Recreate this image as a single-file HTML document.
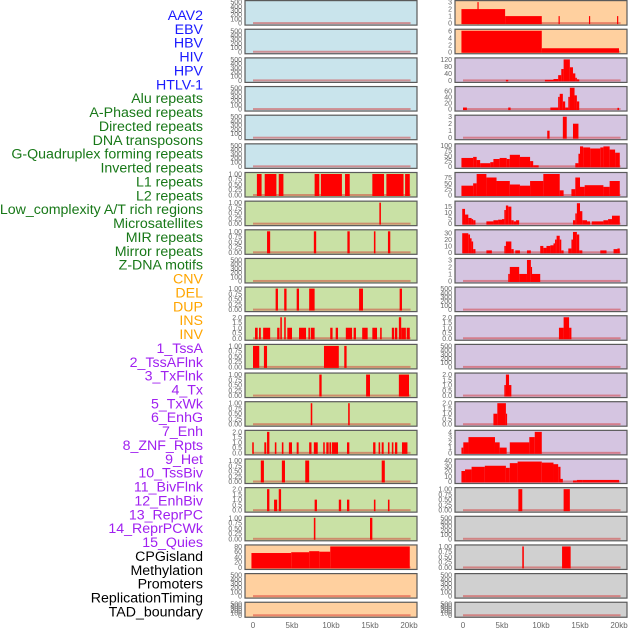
<!DOCTYPE html>
<html><head><meta charset="utf-8">
<style>
html,body{margin:0;padding:0;background:#fff;}
svg{display:block;font-family:"Liberation Sans",sans-serif;}
</style></head>
<body>
<svg id="chart" width="630" height="630" viewBox="0 0 630 630" xmlns="http://www.w3.org/2000/svg">
<g id="labels"></g>
<g id="panels"></g>
<g id="xaxes"></g>
</svg>
<script>
// ---- labels ----
const labelNames = ["AAV2","EBV","HBV","HIV","HPV","HTLV-1","Alu repeats","A-Phased repeats","Directed repeats","DNA transposons","G-Quadruplex forming repeats","Inverted repeats","L1 repeats","L2 repeats","Low_complexity A/T rich regions","Microsatellites","MIR repeats","Mirror repeats","Z-DNA motifs","CNV","DEL","DUP","INS","INV","1_TssA","2_TssAFlnk","3_TxFlnk","4_Tx","5_TxWk","6_EnhG","7_Enh","8_ZNF_Rpts","9_Het","10_TssBiv","11_BivFlnk","12_EnhBiv","13_ReprPC","14_ReprPCWk","15_Quies","CPGisland","Methylation","Promoters","ReplicationTiming","TAD_boundary"];
const labelGroups = [0,0,0,0,0,0,1,1,1,1,1,1,1,1,1,1,1,1,1,2,2,2,2,2,3,3,3,3,3,3,3,3,3,3,3,3,3,3,3,4,4,4,4,4];
const groupColors = ["#1a1aff","#187818","#ffa500","#a020f0","#000000"];

// ---- x axis ----
const xTickValues = [0,5,10,15,20];
const xTickLabels = ["0","5kb","10kb","15kb","20kb"];

// ---- panel data: segments [startKb, endKb, value] ----
const L_binary_r6 = [[0.5,1.1,1],[1.5,3.0,1],[3.3,3.9,1],[7.9,8.5,1],[8.7,11.4,1],[11.8,12.4,1],[15.3,16.8,1],[17.1,19.3,1],[19.5,20.1,1]];
const L_binary_r7 = [[16.2,16.4,1]];
const L_binary_r8 = [[1.8,2.2,1],[7.8,8.1,1],[12.1,12.4,1],[15.5,15.7,1],[17.3,17.6,1]];
const L_binary_r10 = [[2.9,3.2,1],[4.0,4.3,1],[5.6,5.9,1],[7.2,7.9,1],[13.6,14.1,1],[18.8,19.1,1]];
const L_count_r11 = [[0.26,0.6,1],[0.77,1.0,1],[1.3,2.2,1],[3.1,3.4,1],[3.5,3.7,2],[4.0,4.2,2],[4.4,5.0,1],[5.9,6.8,1],[7.1,7.3,1],[7.4,7.9,1],[9.9,10.2,1],[10.6,10.9,1],[11.9,12.7,1],[12.9,13.2,1],[14.0,14.7,1],[15.3,15.9,1],[16.3,16.5,1],[17.8,18.1,1],[18.2,18.5,1],[18.7,19.0,2],[19.0,19.6,1],[19.7,20.1,1]];
const L_binary_r12 = [[0,0.8,1],[1.4,1.8,1],[9.1,11.0,1],[11.7,12.0,1]];
const L_binary_r13 = [[8.5,8.8,1],[14.5,15.0,1],[18.7,20.0,1]];
const L_binary_r14 = [[7.4,7.6,1],[12.2,12.4,1]];
const L_count_r15 = [[-0.1,0.1,1],[1.45,1.7,1],[1.8,2.1,2],[2.8,3.0,1],[3.7,3.9,1],[4.6,5.0,1],[5.6,5.85,1],[7.2,7.5,1],[7.8,8.3,1],[9.0,9.2,1],[9.4,9.7,1],[9.8,10.0,1],[10.1,10.9,1],[12.05,12.35,1],[15.4,15.7,1],[16.1,16.3,1],[16.5,16.75,1],[17.3,17.5,1],[17.8,18.0,1],[18.2,18.5,1],[19.1,19.8,1]];
const L_binary_r16 = [[1.0,1.4,1],[3.7,4.1,1],[6.7,7.2,1],[16.5,16.9,1]];
const L_count_r17 = [[1.8,2.1,2],[2.7,3.1,1],[3.3,3.6,2],[7.9,8.2,1],[11.0,11.3,1],[12.05,12.35,1],[15.5,15.7,1],[17.3,17.5,1]];
const L_binary_r18 = [[7.8,8.0,1],[15.0,15.3,1]];
const L_cpg_r19 = [[-0.2,4.9,55],[4.9,7.2,58],[7.2,8.5,62],[8.5,9.9,60],[9.9,20.1,80]];

const R_aav2_r0 = [[-0.2,5.4,2],[5.4,10.1,1],[1.85,2.0,3],[12.25,12.4,1],[16.15,16.3,1],[19.75,19.9,1]];
const R_ebv_r1 = [[-0.2,10.1,6],[10.1,20.0,1]];
const R_hiv_r2 = [[5.5,5.8,3],[10.5,11.6,3],[11.6,12.2,8],[12.2,12.6,30],[12.6,12.9,65],[12.9,13.7,120],[13.7,14.1,75],[14.1,14.4,40],[14.4,14.6,15],[14.6,14.9,6]];
const R_alu_r3 = [[0.0,0.5,5],[5.8,6.1,5],[11.2,12.2,5],[12.2,12.4,40],[12.4,12.8,50],[12.8,13.1,25],[13.1,13.5,5],[13.5,13.7,40],[13.7,14.3,70],[14.3,14.6,45],[14.6,14.9,25],[19.8,20.0,4]];
const R_r4 = [[10.8,11.1,1],[12.8,13.3,3],[14.1,14.8,2]];
const R_gquad_r5 = [[-0.2,1.3,40],[1.3,1.75,45],[1.75,2.2,30],[2.2,3.5,15],[3.5,3.9,20],[3.9,4.7,35],[4.7,5.6,40],[5.6,6.0,35],[6.0,7.3,55],[7.3,8.6,45],[8.6,9.0,25],[9.0,9.7,5],[14.4,14.8,15],[14.8,15.0,60],[15.0,15.4,95],[15.4,16.3,90],[16.3,17.6,85],[17.6,18.0,90],[18.0,18.8,95],[18.8,19.5,80],[19.5,20.1,65]];
const R_l1_r6 = [[-0.2,1.3,40],[1.3,1.75,50],[1.75,3.0,90],[3.0,4.3,75],[4.3,6.0,60],[6.0,7.3,45],[7.3,8.6,40],[8.6,10.3,60],[10.3,12.4,90],[12.4,12.9,20],[13.9,14.4,25],[14.4,15.0,75],[15.0,15.6,35],[15.6,18.0,42],[18.0,18.8,35],[18.8,20.1,60]];
const R_l2_r7 = [[-0.1,0.26,13],[0.26,0.68,8],[0.68,1.1,5],[1.1,1.3,4],[1.3,1.6,3],[3.0,3.9,2],[3.9,4.5,3],[4.5,5.0,3.5],[5.0,5.3,4],[5.3,5.5,12],[5.5,5.8,16],[5.8,6.2,15],[6.2,6.5,3],[6.5,6.8,2],[6.8,7.2,3],[14.1,14.4,3],[14.4,14.6,9],[14.6,15.0,18],[15.0,15.3,11],[15.3,15.9,3],[15.9,16.3,2],[16.5,18.0,2],[18.0,18.6,3],[18.6,19.1,4],[19.1,20.1,7]];
const R_mir_r8 = [[-0.1,0.68,30],[0.68,0.9,28],[0.9,1.1,22],[1.1,1.3,17],[1.3,1.6,5],[3.0,3.7,3],[5.3,5.5,10],[5.5,6.2,17],[6.2,6.5,5],[6.7,7.3,3],[8.2,8.7,3],[9.9,10.3,10],[10.3,10.7,7],[10.7,11.2,10],[11.2,11.6,11],[11.6,11.8,14],[11.8,12.0,20],[12.0,12.4,26],[12.4,12.6,20],[12.6,12.9,3],[13.5,13.9,6],[13.9,14.1,20],[14.1,14.6,32],[14.6,14.9,28],[14.9,15.3,3],[17.6,18.4,3],[19.3,19.8,5],[19.8,20.1,6]];
const R_r9 = [[5.8,6.0,1],[6.0,7.2,2],[7.2,8.2,1],[8.2,8.7,3],[8.7,8.8,2],[8.8,9.9,1]];
const R_r11 = [[12.3,12.9,1],[12.9,13.6,2],[13.6,13.9,1]];
const R_r13 = [[5.3,5.5,1],[5.5,5.9,2],[5.9,6.2,1]];
const R_r14 = [[3.9,4.4,1],[4.4,5.5,2],[5.5,5.6,1]];
const R_r15 = [[-0.2,0.04,1],[0.04,0.7,2],[0.7,4.1,3],[4.1,4.7,2],[4.7,5.6,1],[6.0,8.5,2],[8.5,9.2,3],[9.2,10.1,4]];
const R_r16 = [[-0.2,0.26,20],[0.26,1.1,23],[1.1,2.8,28],[2.8,5.5,30],[5.5,6.0,26],[6.0,7.0,35],[7.0,10.1,38],[10.1,11.6,36],[11.6,12.2,33],[12.2,12.5,28],[12.5,12.8,5],[14.1,14.6,2],[14.6,15.3,3],[15.3,20.0,3]];
const R_r17 = [[7.1,7.6,1],[12.9,13.7,1]];
const R_r19 = [[7.6,7.8,1],[12.7,13.8,1]];

// ---- panel definitions (styles/layout) ----
const BLUE="#c9e4ec", GREEN="#c9e1a5", PEACH="#ffd09f", PURPLE="#d5c5e1", GRAY="#d0d0d0";
const EMPTY=[[0,100,200,300,400,500],500,["0","100","200","300","400","500"]];
const BIN=[[0,0.25,0.5,0.75,1],1,["0.00","0.25","0.50","0.75","1.00"]];
const TWO=[[0,0.5,1,1.5,2],2,["0.0","0.5","1.0","1.5","2.0"]];
function T(vals,max){return [vals,max,vals.map(String)];}
const leftPanels = [
 [BLUE,null,EMPTY],[BLUE,null,EMPTY],[BLUE,null,EMPTY],[BLUE,null,EMPTY],[BLUE,null,EMPTY],[BLUE,null,EMPTY],
 [GREEN,L_binary_r6,BIN],[GREEN,L_binary_r7,BIN],[GREEN,L_binary_r8,BIN],[GREEN,null,EMPTY],
 [GREEN,L_binary_r10,BIN],[GREEN,L_count_r11,TWO],[GREEN,L_binary_r12,BIN],[GREEN,L_binary_r13,BIN],
 [GREEN,L_binary_r14,BIN],[GREEN,L_count_r15,TWO],[GREEN,L_binary_r16,BIN],[GREEN,L_count_r17,TWO],
 [GREEN,L_binary_r18,BIN],[PEACH,L_cpg_r19,T([0,20,40,60,80],80)],[PEACH,null,EMPTY],[PEACH,null,EMPTY]
];
const rightPanels = [
 [PEACH,R_aav2_r0,T([0,1,2,3],3)],[PEACH,R_ebv_r1,T([0,2,4,6],6)],
 [PURPLE,R_hiv_r2,T([0,40,80,120],120)],[PURPLE,R_alu_r3,T([0,20,40,60],69)],
 [PURPLE,R_r4,T([0,1,2,3],3)],[PURPLE,R_gquad_r5,T([0,25,50,75,100],100)],
 [PURPLE,R_l1_r6,T([0,25,50,75],90)],[PURPLE,R_l2_r7,T([0,5,10,15],18.5)],
 [PURPLE,R_mir_r8,T([0,10,20,30],33)],[PURPLE,R_r9,T([0,1,2,3],3)],[PURPLE,null,EMPTY],
 [PURPLE,R_r11,TWO],[PURPLE,null,EMPTY],[PURPLE,R_r13,TWO],[PURPLE,R_r14,TWO],
 [PURPLE,R_r15,T([0,1,2,3,4],4)],[PURPLE,R_r16,T([0,10,20,30,40],40)],
 [GRAY,R_r17,BIN],[GRAY,null,EMPTY],[GRAY,R_r19,BIN],[GRAY,null,EMPTY],[GRAY,null,EMPTY]
];

const NS="http://www.w3.org/2000/svg";
function mk(tag,attrs,parent){const e=document.createElementNS(NS,tag);for(const k in attrs)e.setAttribute(k,attrs[k]);parent.appendChild(e);return e;}

// labels
const lg=document.getElementById('labels');
labelNames.forEach((n,i)=>{
  const t=mk('text',{x:203,y:(15+i*13.87+5).toFixed(1),'text-anchor':'end','font-size':'14.2',fill:groupColors[labelGroups[i]]},lg);
  
  
  t.textContent=n;
});

const pg=document.getElementById('panels');
const PW=172, KB=7.8;
function rowTop(i){return 0.6+28.65*i;}
function rowH(i){return i===21?15:24.5;}
function drawPanel(px,i,def,side){
  const top=rowTop(i),h=rowH(i);
  const g=mk('g',{},pg);
  
  
  const bg=mk('rect',{x:px,y:top,width:PW,height:h,fill:def[0],stroke:'#5a5a5a','stroke-width':1.2},g);
  
  
  const xs=v=>px+8+v*KB;
  const y0=top+h-2, y1=top+1.5;
  const [tv,tmax,tl]=def[2];
  const ys=v=>y0-(v/tmax)*(y0-y1);
  tv.forEach((v,k)=>{
    const t=mk('text',{x:px-3,y:(ys(v)+2.5).toFixed(1),'text-anchor':'end','font-size':'7',fill:'#666'},g);
    
    
    t.textContent=tl[k];
  });
  const bl=mk('rect',{x:xs(0),y:y0-1,width:xs(20.2)-xs(0),height:2,fill:'rgba(210,40,40,0.45)'},g);
  
  
  if(def[1]){
    def[1].forEach(s=>{
      const r=mk('rect',{x:xs(s[0]).toFixed(2),y:ys(s[2]).toFixed(2),width:Math.max(1.2,xs(s[1])-xs(s[0])).toFixed(2),height:(y0-ys(s[2])+1).toFixed(2),fill:'#ff0000'},g);
      
      
    });
  }
}
leftPanels.forEach((d,i)=>drawPanel(245,i,d,'left'));
rightPanels.forEach((d,i)=>drawPanel(455,i,d,'right'));

const xg=document.getElementById('xaxes');
[245,455].forEach(px=>{
  xTickValues.forEach((v,k)=>{
    const t=mk('text',{x:px+8+v*KB,y:628,'text-anchor':'middle','font-size':'8',fill:'#666'},xg);
    
    
    t.textContent=xTickLabels[k];
  });
});
</script>
</body></html>
